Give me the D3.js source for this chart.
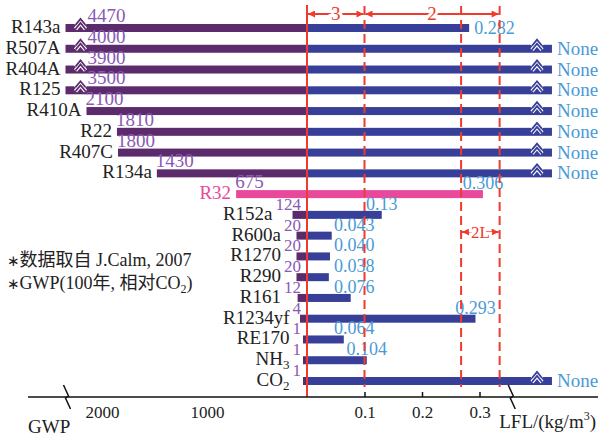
<!DOCTYPE html>
<html>
<head>
<meta charset="utf-8">
<script src="https://cdn.jsdelivr.net/npm/d3@7"></script>
<style>
body { margin: 0; background: #fff; }
text { font-family: "Liberation Serif", "Noto Sans CJK SC", serif; }
</style>
</head>
<body>
<div id="chart"></div>
<script>
// refrigerants, top to bottom
var names = ["R143a", "R507A", "R404A", "R125", "R410A", "R22", "R407C", "R134a", "R32",
  "R152a", "R600a", "R1270", "R290", "R161", "R1234yf", "RE170", "NH_3", "CO_2"];
var gwp = [4470, 4000, 3900, 3500, 2100, 1810, 1800, 1430, 675, 124, 20, 20, 20, 12, 4, 1, 1, 1];
// null = no flammability limit ("None")
var lfl = [0.282, null, null, null, null, null, null, null, 0.306, 0.13, 0.043, 0.040, 0.038,
  0.076, 0.293, 0.064, 0.104, null];
var lflLabels = ["0.282", "None", "None", "None", "None", "None", "None", "None", "0.306", "0.13",
  "0.043", "0.040", "0.038", "0.076", "0.293", "0.064", "0.104", "None"];
var gwpTicks = [1000, 2000];
var lflTicks = [0.1, 0.2, 0.3];
var classLines = [0.1, 0.268, 0.335];
var notes = ["数据取自 J.Calm, 2007", "GWP(100年, 相对CO_2)"];

var gwpCap = 2300;    // longer gwp bars are broken here
var lflNone = 0.426;  // "None" bars end here
var lflBreak = 0.357;

var svgWidth = 598;
var svgHeight = 438;

var purple = "#5c2b6c", blue = "#383f98", pink = "#e9489b";
var gwpColor = "#8a5ab4", lflColor = "#4a9ad6", red = "#ef3b2d";

var svg = d3.select("#chart")
  .append("svg")
  .attr("width", svgWidth)
  .attr("height", svgHeight);

var x0 = 307;
var axisY = 397;
var barH = 8;

var xGwp = d3.scaleLinear().domain([0, 2000]).range([x0, 97]);
var stub = d3.scaleLog().domain([1, 100]).range([4, 14]);  // minimum length for tiny gwp
var xLfl = d3.scaleLinear().domain([0, 0.3]).range([x0, 479.5]);
var y = d3.scalePoint().domain(names).range([28, 381]);

var rows = names.map(function(n, i) {
  return { name: n, gwp: gwp[i], lfl: lfl[i], lbl: lflLabels[i], i: i };
});

function gwpStart(d) {
  if (d.gwp > gwpCap) return xGwp(gwpCap);
  return Math.min(xGwp(d.gwp), x0 - stub(d.gwp));
}
function lflEnd(d) {
  return d.lfl == null ? xLfl(lflNone) : xLfl(d.lfl);
}

// text with "_x" subscripts
function subText(sel, s, subSize) {
  var parts = s.split(/_(\d)/);
  parts.forEach(function(p, k) {
    if (p === "") return;
    if (k % 2) {
      sel.append("tspan").attr("font-size", subSize).attr("dy", 4).text(p);
    } else {
      sel.append("tspan").attr("dy", k > 0 ? -4 : 0).text(p);
    }
  });
}

// arrowhead
svg.append("defs").append("marker")
  .attr("id", "arr")
  .attr("viewBox", "0 0 10 10")
  .attr("refX", 10).attr("refY", 5)
  .attr("markerWidth", 8).attr("markerHeight", 7)
  .attr("markerUnits", "userSpaceOnUse")
  .attr("orient", "auto-start-reverse")
  .append("path")
  .attr("d", "M0,0 L10,5 L0,10 z")
  .attr("fill", red);

// bars
var bars = svg.append("g");
bars.selectAll(".gwpbar")
  .data(rows)
  .enter()
  .append("rect")
  .attr("x", d => gwpStart(d))
  .attr("y", d => y(d.name) - barH / 2)
  .attr("width", d => x0 - gwpStart(d))
  .attr("height", barH)
  .attr("fill", d => d.name == "R32" ? pink : purple);

bars.selectAll(".lflbar")
  .data(rows)
  .enter()
  .append("rect")
  .attr("x", x0)
  .attr("y", d => y(d.name) - barH / 2)
  .attr("width", d => lflEnd(d) - x0)
  .attr("height", barH)
  .attr("fill", d => d.name == "R32" ? pink : blue);

function chevron(x, cy, color) {
  var g = svg.append("g");
  var up = "M" + (x - 5) + "," + (cy - 3) + " L" + x + "," + (cy - 9) + " L" + (x + 5) + "," + (cy - 3);
  var lo = "M" + (x - 5) + "," + (cy + 1) + " L" + x + "," + (cy - 5) + " L" + (x + 5) + "," + (cy + 1);
  g.append("path").attr("d", up).attr("fill", "none").attr("stroke", "#fff").attr("stroke-width", 5);
  g.append("path").attr("d", lo).attr("fill", "none").attr("stroke", "#fff").attr("stroke-width", 4);
  g.append("path").attr("d", up).attr("fill", "none").attr("stroke", color).attr("stroke-width", 1.8);
  g.append("path").attr("d", lo).attr("fill", "none").attr("stroke", color).attr("stroke-width", 1.8);
}
rows.forEach(function(d) {
  if (d.gwp > gwpCap) chevron(xGwp(gwpCap) + 15, y(d.name), purple);
  if (d.lfl == null) chevron(xLfl(0.4), y(d.name), blue);
});

// gwp value labels
var gwpLbl = svg.append("g").selectAll("text")
  .data(rows)
  .enter()
  .append("text")
  .attr("fill", gwpColor)
  .attr("font-size", d => d.gwp >= 300 ? 19 : 17)
  .attr("text-anchor", d => d.gwp >= 300 ? "start" : "end")
  .attr("x", d => d.gwp >= 300 ? gwpStart(d) + (d.gwp > gwpCap ? 22 : -1) : x0 - 6)
  .attr("y", d => y(d.name) - (d.gwp >= 300 ? 6 : 5))
  .text(d => d.gwp);

// names
gwpLbl.each(function(d) {
  var left = d.gwp >= 300 ? gwpStart(d) : x0 - 6 - this.getComputedTextLength();
  var xn = Math.min(gwpStart(d) - 5, left - 3);
  var t = svg.append("text")
    .attr("x", xn)
    .attr("y", y(d.name) + 5)
    .attr("text-anchor", "end")
    .attr("font-size", 19)
    .attr("fill", d.name == "R32" ? pink : "#222");
  subText(t, d.name, 13);
});

// lfl value labels
svg.append("g").selectAll("text")
  .data(rows)
  .enter()
  .append("text")
  .attr("fill", lflColor)
  .attr("font-size", d => d.lfl == null ? 19 : 18)
  .attr("text-anchor", d => (d.lfl == null || d.i == 0) ? "start" : "middle")
  .attr("x", function(d) {
    if (d.lfl == null || d.i == 0) return lflEnd(d) + 5;
    return Math.max(lflEnd(d), xLfl(0.082));
  })
  .attr("y", d => (d.lfl == null || d.i == 0) ? y(d.name) + 6 : y(d.name) - 5)
  .text(d => d.lbl);

// red class lines
svg.append("line")
  .attr("x1", x0).attr("x2", x0)
  .attr("y1", 5).attr("y2", axisY)
  .attr("stroke", red).attr("stroke-width", 2);

svg.selectAll(".dash")
  .data(classLines)
  .enter()
  .append("line")
  .attr("x1", d => xLfl(d)).attr("x2", d => xLfl(d))
  .attr("y1", 6).attr("y2", 387)
  .attr("stroke", red).attr("stroke-width", 2)
  .attr("stroke-dasharray", "9,5");

function spanArrow(a, b, yy, label, size) {
  svg.append("line")
    .attr("x1", xLfl(a) + 1).attr("x2", xLfl(b) - 1)
    .attr("y1", yy).attr("y2", yy)
    .attr("stroke", red).attr("stroke-width", 1.8)
    .attr("marker-start", "url(#arr)")
    .attr("marker-end", "url(#arr)");
  svg.append("text")
    .attr("x", (xLfl(a) + xLfl(b)) / 2)
    .attr("y", yy + size * 0.33)
    .attr("text-anchor", "middle")
    .attr("font-size", size)
    .attr("fill", red)
    .attr("stroke", "#fff").attr("stroke-width", 6)
    .attr("paint-order", "stroke")
    .text(label);
}
spanArrow(0, classLines[0], 14, "3", 19);
spanArrow(classLines[0], classLines[2], 14, "2", 19);
spanArrow(classLines[1], classLines[2], 232, "2L", 17);

// axis
svg.append("line")
  .attr("x1", 28).attr("x2", svgWidth)
  .attr("y1", axisY).attr("y2", axisY)
  .attr("stroke", "#111").attr("stroke-width", 1.5);

var lflAxis = svg.append("g")
  .attr("transform", `translate(0, ${axisY})`)
  .call(d3.axisBottom(xLfl).tickValues(lflTicks).tickSize(-5).tickPadding(9).tickFormat(d3.format(".1f")));
var gwpAxis = svg.append("g")
  .attr("transform", `translate(0, ${axisY})`)
  .call(d3.axisBottom(xGwp).tickValues(gwpTicks).tickSize(0).tickPadding(9).tickFormat(d3.format("d")));
[lflAxis, gwpAxis].forEach(function(a) {
  a.select(".domain").remove();
  a.attr("font-family", null).attr("font-size", null);
  a.selectAll("line").attr("stroke", "#111").attr("stroke-width", 1.5);
  a.selectAll("text").attr("font-size", 17).attr("fill", "#222");
});
gwpAxis.selectAll("text").attr("dx", 5);

function axisBreak(x) {
  svg.append("path")
    .attr("d", `M${x - 4},${axisY - 12} L${x + 1},${axisY - 1} L${x - 2},${axisY + 1} L${x + 3},${axisY + 12}`)
    .attr("fill", "none")
    .attr("stroke", "#111")
    .attr("stroke-width", 1.5);
}
axisBreak(xGwp(gwpCap) + 2);
axisBreak(xLfl(lflBreak));

svg.append("text")
  .attr("x", 28).attr("y", 433)
  .attr("font-size", 19).attr("fill", "#222")
  .text("GWP");

var lt = svg.append("text")
  .attr("x", 596).attr("y", 428)
  .attr("text-anchor", "end")
  .attr("font-size", 19).attr("fill", "#222");
lt.append("tspan").text("LFL/(kg/m");
lt.append("tspan").attr("font-size", 12).attr("dy", -8).text("3");
lt.append("tspan").attr("dy", 8).text(")");

// notes
notes.forEach(function(n, k) {
  var t = svg.append("text")
    .attr("x", 7).attr("y", 266 + k * 23)
    .attr("font-size", 18).attr("fill", "#222");
  t.append("tspan").attr("font-family", "DejaVu Sans").attr("font-size", 15).text("∗");
  t.append("tspan").attr("dx", 2).text("");
  subText(t, n, 12);
});
</script>
</body>
</html>
